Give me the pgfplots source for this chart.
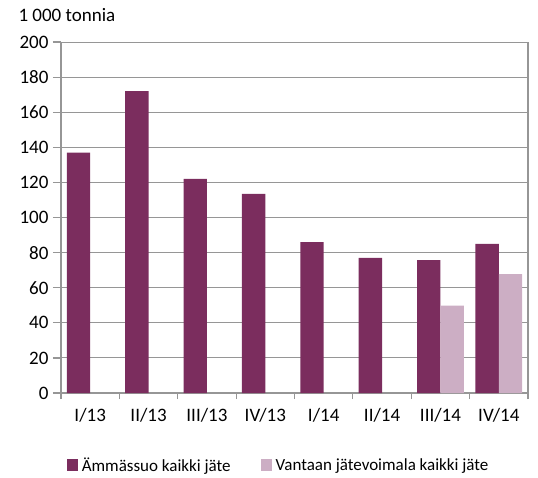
\documentclass[border=0pt]{standalone}
\usepackage{fontspec}
\setmainfont{Carlito}
\usepackage{pgfplots}
\pgfplotsset{compat=1.18}

\definecolor{ammassuo}{RGB}{123,45,94}
\definecolor{vantaa}{RGB}{204,174,196}
\definecolor{gridgray}{RGB}{150,150,150}

\begin{document}
\begin{tikzpicture}
\begin{axis}[
  scale only axis,
  width=467pt, height=351pt,
  xmin=-0.5, xmax=7.5,
  ymin=0, ymax=200,
  ytick={0,20,...,200},
  xtick={0,...,7},
  xticklabels={I/13,II/13,III/13,IV/13,I/14,II/14,III/14,IV/14},
  minor xtick={-0.5,0.5,...,7.5},
  major x tick style={draw=none},
  tick align=outside,
  major tick length=8pt,
  minor tick length=6pt,
  tick style={gridgray, line width=1.2pt},
  ymajorgrids,
  grid style={gridgray, line width=1pt},
  axis line style={gridgray, line width=1.5pt},
  axis x line*=bottom,
  axis y line*=left,
  tick label style={font=\fontsize{19}{19}\selectfont, /pgf/number format/assume math mode=true},
  yticklabel style={xshift=-1pt},
  xticklabel style={yshift=-4pt},
  bar width=0.4,
  legend columns=2,
  legend style={draw=none, font=\fontsize{17}{17}\selectfont,
    at={(rel axis cs:0.466,-0.205)}, anchor=center,
    /tikz/every odd column/.append style={column sep=2pt},
    /tikz/every even column/.append style={column sep=28pt}},
  legend image code/.code={\fill[#1] (0pt,-6pt) rectangle (11pt,6pt);},
  clip=false,
]
\addplot[ybar, bar shift=-0.2, fill=ammassuo, draw=none]
  coordinates {(0,137)(1,172)(2,122)(3,113.5)(4,86)(5,77)(6,75.7)(7,85)};
\addlegendentry{Ämmässuo kaikki jäte}
\addplot[ybar, bar shift=0.2, fill=vantaa, draw=none]
  coordinates {(6,49.8)(7,67.7)};
\addlegendentry{Vantaan jätevoimala kaikki jäte}
\draw[gridgray, line width=1.5pt] (rel axis cs:1,0) -- (rel axis cs:1,1);
\node[anchor=west, font=\fontsize{19}{19}\selectfont] at ([xshift=-46pt, yshift=27pt]rel axis cs:0,1) {1 000 tonnia};
\path ([xshift=-61pt, yshift=-84pt]rel axis cs:0,0) rectangle ([xshift=10pt, yshift=42pt]rel axis cs:1,1);
\end{axis}
\end{tikzpicture}
\end{document}
